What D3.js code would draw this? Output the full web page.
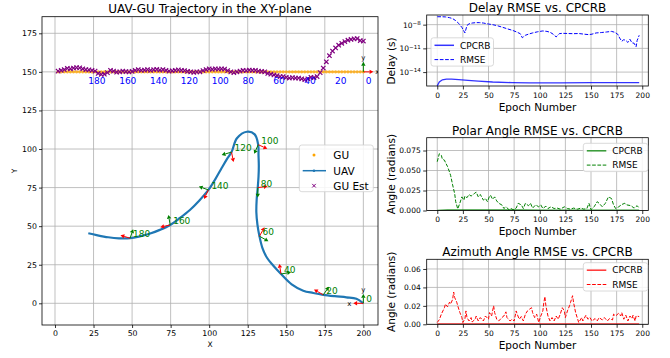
<!DOCTYPE html>
<html>
<head>
<meta charset="utf-8">
<script src="https://cdn.jsdelivr.net/npm/d3@7"></script>
<style>
  body { margin: 0; background: #fff; }
  svg { font-family: "DejaVu Sans", sans-serif; }
</style>
</head>
<body>
<svg id="fig" width="670" height="358"></svg>
<script>
// ---------- data ----------
// UAV trajectory (every 5 epochs)
const uavEpochs = [0,5,10,15,20,25,30,35,40,45,50,55,60,65,70,75,80,85,90,95,100,105,110,115,120,125,130,135,140,145,150,155,160,165,170,175,180,185,190,195,198];
const uavX = [200,195.5,189,181.5,174,167.5,161,153.5,146.6,141.5,137.5,134.5,132.6,131.3,130.6,130.8,131.5,132,132.2,132,131.8,129.5,124.5,118,114.5,111.5,108,104,99.5,93.5,87.5,81,74.7,68,61.7,55,48.7,41.5,34.5,27,21.6];
const uavY = [0,3.0,3.9,4.6,5.5,6.7,8.2,12.3,19,24.5,29.5,36,43.5,51,59,67,75,82,89,96,102.8,109.5,111.2,107,98,93.5,87.5,80.5,73.5,66.5,60.5,55.3,50.8,47.6,45.2,43.4,42.2,42.1,42.8,44.2,45.4];

// GU: true position moves along y = 150, estimate every 2 epochs
const guY = 150;
const estEpochs = d3.range(0, 199, 2);
const estY = [170,170.3,171.6,171.4,171,170.5,169.6,168.5,167.3,165.5,
  163.5,160.5,156.5,152.5,149.5,147,146.3,146.5,145.5,145,
  145.5,146,146,146.3,146,146.5,147,147,147.5,148,
  148.5,149,150,150.3,150.5,151,151,151.2,150.8,151,
  150.5,150,149.5,150,150.8,151.8,152,151.8,152,151.7,
  152,151.5,150.8,150,150,149.7,150,150.3,150.8,151,
  151.3,151,150.7,150.5,151,151.5,151.2,151.6,151.4,151,
  151.5,151.2,151,151.5,151,150.3,150,150.2,150.5,150,
  149.8,150.5,151,149.5,148.5,148.3,149,150.5,151,151.3,
  151.5,152,152.6,152.8,152.5,152,152.3,151.5,151,150.5];

// local frame arrows at labelled epochs (red = x-axis, green = y-axis), data units
const frameEpochs = [0,20,40,60,80,100,120,140,160,180];
const redDir   = [[-6.5,0],[-6,3.4],[-1.1,6.5],[3.3,5.8],[6.4,0.8],[5.9,-2.6],[1.3,-6.4],[-2.8,-5.9],[-6.4,-1.5],[-6.2,1.9]];
const greenDir = [[0,6],[3.7,5.2],[6.5,1.1],[5.8,-3.3],[0,-6.5],[-2.6,-5.9],[-6.4,-1.9],[-6.2,2.2],[-1.1,6.5],[2,5.8]];

// right-hand panels
const epochTicks = [0,25,50,75,100,125,150,175,200];

const delayCrbEpochs = [0,2,5,9,14,21,30,40,54,73,90,120,150,197];
const delayCrb = [1.8e-16,5.5e-16,1.05e-15,1.26e-15,1.26e-15,1.1e-15,8.9e-16,7.4e-16,5.6e-16,4.6e-16,4.2e-16,4.2e-16,4.6e-16,4.6e-16];
const delayRmseEpochs = [0,4,8,12,15,18,21,24,27,29,31,34,38,41,45,50,54,59,64,69,74,78,81,83,86,89,93,98,103,107,110,113,116,119,122,127,133,138,143,148,151,155,160,165,170,173,176,178,180,182,184,186,188,190,192,194,195,196,197];
const delayRmse = [1.0e-7,1.0e-7,9.5e-8,7.6e-8,5.8e-8,3.2e-8,1.4e-8,4.5e-9,8.9e-10,7.9e-9,1.26e-8,1.6e-8,1.8e-8,1.8e-8,1.6e-8,1.2e-8,1.0e-8,7.1e-9,4.5e-9,2.8e-9,1.8e-9,1.1e-9,7.1e-10,2.2e-10,4.5e-10,6.3e-10,8.9e-10,1.26e-9,1.6e-9,1.4e-9,1.1e-9,6.3e-10,2.8e-10,7.2e-10,8e-10,7.6e-10,7.2e-10,7.6e-10,6.3e-10,5.4e-10,6.3e-10,8.9e-10,1.0e-9,1.17e-9,1.4e-9,1.1e-9,6.3e-10,2.0e-10,7.9e-11,1.26e-10,1e-10,5.6e-11,1.4e-10,5e-11,4.5e-11,1.6e-11,1e-10,2e-10,4.5e-10];

const polarCrbEpochs = [0,5,10,20,30,45,60,80,100,130,160,197];
const polarCrb = [0.0002,0.0005,0.0007,0.0008,0.0008,0.0008,0.0007,0.0006,0.0005,0.0005,0.0004,0.0004];
const polarRmseEpochs = [0,2,4,5,7,8,10,12,13,15,17,18,20,22,24,26,27,29,31,33,36,38,40,42,45,47,49,51,52,54,56,58,60,63,65,67,70,72,74,77,79,82,84,86,89,91,93,96,99,101,103,106,108,111,114,117,120,124,127,130,133,137,140,143,146,148,150,153,156,158,161,164,167,170,172,174,177,180,183,185,189,192,195,197];
const polarRmse = [0.061,0.071,0.069,0.064,0.063,0.060,0.055,0.048,0.044,0.032,0.021,0.011,0.002,0.009,0.017,0.013,0.018,0.016,0.020,0.018,0.021,0.023,0.017,0.020,0.013,0.015,0.011,0.018,0.019,0.014,0.017,0.012,0.009,0.007,0.0025,0.0046,0.001,0.0025,0.001,0.003,0.009,0.007,0.0025,0.009,0.006,0.009,0.003,0.007,0.0046,0.007,0.0025,0.0054,0.0025,0.0046,0.0025,0.003,0.0017,0.0046,0.0025,0.0017,0.003,0.0017,0.003,0.0017,0.0025,0.009,0.001,0.0046,0.011,0.009,0.0046,0.009,0.017,0.015,0.007,0.0025,0.0046,0.0075,0.009,0.007,0.006,0.003,0.006,0.003];

const azCrbEpochs = [0,10,20,40,80,120,160,197];
const azCrb = [0.0003,0.0005,0.0005,0.0004,0.0004,0.0003,0.0003,0.0003];
const azRmseEpochs = [0,2,4,7,8,10,12,13,15,16,17,19,20,22,24,25,27,28,29,31,33,34,37,38,40,42,45,47,50,51,53,55,56,58,60,63,65,67,68,71,73,75,77,78,80,82,84,86,88,90,92,93,95,97,99,101,103,104,105,106,108,110,112,114,116,118,120,122,124,125,127,129,130,132,133,135,137,138,141,142,145,147,149,151,154,156,158,161,163,166,168,171,172,174,177,179,180,182,184,186,188,190,191,193,194,197];
const azRmse = [0.002,0.005,0.011,0.018,0.022,0.019,0.024,0.022,0.027,0.035,0.029,0.024,0.020,0.013,0.0073,0.002,0.006,0.0145,0.0073,0.0036,0.0073,0.0025,0.0055,0.009,0.0036,0.0073,0.0036,0.009,0.0055,0.0127,0.009,0.020,0.0127,0.0055,0.0036,0.0073,0.009,0.0135,0.0073,0.0036,0.0055,0.0036,0.0145,0.011,0.0055,0.0084,0.0036,0.011,0.0145,0.0164,0.018,0.0127,0.0073,0.011,0.002,0.009,0.0145,0.0236,0.030,0.020,0.009,0.0036,0.0073,0.0036,0.009,0.0055,0.011,0.018,0.0145,0.0073,0.0145,0.020,0.0236,0.031,0.0236,0.0127,0.0055,0.002,0.0073,0.0036,0.0098,0.0055,0.0073,0.0036,0.0062,0.0036,0.0073,0.0047,0.0073,0.0036,0.0062,0.0047,0.011,0.009,0.012,0.009,0.0127,0.0055,0.0098,0.0036,0.009,0.0062,0.0098,0.0036,0.009,0.0084];

// ---------- figure ----------
const svg = d3.select("#fig");
svg.append("rect").attr("width", 670).attr("height", 358).attr("fill", "#fff");

function styleAxis(g, size) {
  g.select(".domain").remove();
  g.selectAll(".tick line").attr("stroke", "#000").attr("stroke-width", 0.8);
  g.selectAll(".tick text").attr("fill", "#000").style("font-size", size + "px")
    .style("font-family", '"DejaVu Sans", sans-serif');
}

function arrow(g, p0, p1, color) {
  const dx = p1[0] - p0[0], dy = p1[1] - p0[1];
  const len = Math.hypot(dx, dy), ux = dx / len, uy = dy / len;
  const hl = 3.8, hw = 2.2;
  const bx = p1[0] - ux * hl, by = p1[1] - uy * hl;
  g.append("line").attr("x1", p0[0]).attr("y1", p0[1]).attr("x2", bx).attr("y2", by)
    .attr("stroke", color).attr("stroke-width", 1);
  g.append("path")
    .attr("d", `M${p1[0]},${p1[1]}L${bx - uy * hw},${by + ux * hw}L${bx + uy * hw},${by - ux * hw}Z`)
    .attr("fill", color);
}

// ===== left panel: trajectory =====
const L = { left: 42, right: 378, top: 16.7, bottom: 325 };
const xL = d3.scaleLinear().domain([-8.43, 209.5]).range([L.left, L.right]);
const yL = d3.scaleLinear().domain([-14.06, 185.76]).range([L.bottom, L.top]);
const trajTicksX = [0,25,50,75,100,125,150,175,200];
const trajTicksY = [0,25,50,75,100,125,150,175];

svg.append("clipPath").attr("id", "clipL").append("rect")
  .attr("x", L.left).attr("y", L.top).attr("width", L.right - L.left).attr("height", L.bottom - L.top);

const gl = svg.append("g");
gl.selectAll(".gx").data(trajTicksX).enter().append("line")
  .attr("x1", d => xL(d)).attr("x2", d => xL(d)).attr("y1", L.top).attr("y2", L.bottom)
  .attr("stroke", "#b0b0b0").attr("stroke-width", 0.8);
gl.selectAll(".gy").data(trajTicksY).enter().append("line")
  .attr("y1", d => yL(d)).attr("y2", d => yL(d)).attr("x1", L.left).attr("x2", L.right)
  .attr("stroke", "#b0b0b0").attr("stroke-width", 0.8);

const pl = gl.append("g").attr("clip-path", "url(#clipL)");

// GU true positions
pl.selectAll(".gu").data(estEpochs).enter().append("circle")
  .attr("cx", e => xL(200 - e)).attr("cy", yL(guY)).attr("r", 1.7)
  .attr("fill", "#ffa500").attr("opacity", 0.8);

// UAV
const uavPts = uavEpochs.map((e, i) => [uavX[i], uavY[i]]);
pl.append("path").datum(uavPts)
  .attr("d", d3.line().x(d => xL(d[0])).y(d => yL(d[1])).curve(d3.curveCatmullRom))
  .attr("fill", "none").attr("stroke", "#1f77b4").attr("stroke-width", 2.2);

// GU estimates
pl.selectAll(".est").data(estEpochs).enter().append("path")
  .attr("transform", (e, i) => `translate(${xL(200 - e)},${yL(estY[i])})`)
  .attr("d", "M-2.2,-2.2L2.2,2.2M-2.2,2.2L2.2,-2.2")
  .attr("stroke", "#800080").attr("stroke-width", 1.2);

// GU epoch labels
pl.selectAll(".gulab").data(frameEpochs).enter().append("text")
  .attr("x", e => xL(200 - e) + 2.5).attr("y", yL(guY) + 12.5)
  .attr("fill", "#0000ff").style("font-size", "9px").text(e => e);

// GU start frame
arrow(pl, [xL(200), yL(guY)], [xL(206.5), yL(guY)], "red");
arrow(pl, [xL(200), yL(guY)], [xL(200), yL(guY + 6.5)], "green");
pl.append("text").attr("x", xL(206.5) + 2).attr("y", yL(guY) + 2.5).style("font-size", "7px").text("x");
pl.append("text").attr("x", xL(200)).attr("y", yL(guY + 6.5) - 2).attr("text-anchor", "middle").style("font-size", "7px").text("y");

// UAV frames and epoch labels
frameEpochs.forEach((e, k) => {
  const i = uavEpochs.indexOf(e);
  const x0 = uavX[i], y0 = uavY[i];
  const p0 = [xL(x0), yL(y0)];
  arrow(pl, p0, [xL(x0 + redDir[k][0]), yL(y0 + redDir[k][1])], "red");
  arrow(pl, p0, [xL(x0 + greenDir[k][0]), yL(y0 + greenDir[k][1])], "green");
  pl.append("text").attr("x", p0[0] + 3).attr("y", p0[1] - 1)
    .attr("fill", "green").style("font-size", "9px").text(e);
});
pl.append("text").attr("x", xL(200 - 6.5) - 2).attr("y", yL(0) + 2.5).attr("text-anchor", "end").style("font-size", "7px").text("x");
pl.append("text").attr("x", xL(200)).attr("y", yL(6) - 2).attr("text-anchor", "middle").style("font-size", "7px").text("y");

gl.append("rect").attr("x", L.left).attr("y", L.top).attr("width", L.right - L.left).attr("height", L.bottom - L.top)
  .attr("fill", "none").attr("stroke", "#000").attr("stroke-width", 0.8);

const axLx = gl.append("g").attr("transform", `translate(0,${L.bottom})`)
  .call(d3.axisBottom(xL).tickValues(trajTicksX).tickSize(3).tickPadding(2.5));
styleAxis(axLx, 7.8);
const axLy = gl.append("g").attr("transform", `translate(${L.left},0)`)
  .call(d3.axisLeft(yL).tickValues(trajTicksY).tickSize(3).tickPadding(2));
styleAxis(axLy, 7.8);

gl.append("text").attr("x", (L.left + L.right) / 2).attr("y", 13).attr("text-anchor", "middle")
  .style("font-size", "12px").text("UAV-GU Trajectory in the XY-plane");
gl.append("text").attr("x", (L.left + L.right) / 2).attr("y", 346.5).attr("text-anchor", "middle")
  .style("font-size", "7.5px").text("X");
gl.append("text").attr("transform", `translate(16.5,${(L.top + L.bottom) / 2}) rotate(-90)`).attr("text-anchor", "middle")
  .style("font-size", "7.5px").text("Y");

// legend
const lg = gl.append("g").attr("transform", "translate(299.3,145)");
lg.append("rect").attr("width", 74).attr("height", 46.7).attr("rx", 2.5)
  .attr("fill", "#fff").attr("fill-opacity", 0.85).attr("stroke", "#d0d0d0").attr("stroke-width", 0.8);
lg.append("circle").attr("cx", 14.7).attr("cy", 10).attr("r", 1.5).attr("fill", "#ffa500");
lg.append("line").attr("x1", 3.4).attr("x2", 26.7).attr("y1", 25.7).attr("y2", 25.7).attr("stroke", "#1f77b4").attr("stroke-width", 1.5);
lg.append("circle").attr("cx", 14.7).attr("cy", 25.7).attr("r", 1.3).attr("fill", "#1f77b4");
lg.append("path").attr("transform", "translate(14.7,40.7)").attr("d", "M-1.8,-1.8L1.8,1.8M-1.8,1.8L1.8,-1.8")
  .attr("stroke", "#800080").attr("stroke-width", 1);
["GU", "UAV", "GU Est"].forEach((t, i) => {
  lg.append("text").attr("x", 34).attr("y", [10, 25.7, 40.7][i] + 3.8).style("font-size", "10.5px").text(t);
});

// ===== right panels =====
const R = { left: 426.7, right: 648.3 };
const xR = d3.scaleLinear().domain([-10.3, 205.9]).range([R.left, R.right]);

const panels = [
  { id: "delay", title: "Delay RMSE vs. CPCRB", top: 15, bottom: 86, color: "blue",
    y: d3.scaleLog().domain([Math.pow(10, -15.76), Math.pow(10, -6.78)]),
    yTicks: [1e-8, 1e-11, 1e-14], ylabel: "Delay (s)", ylabelY: 61,
    crbE: delayCrbEpochs, crb: delayCrb, rmseE: delayRmseEpochs, rmse: delayRmse,
    legend: [431, 37.8, 62.5] },
  { id: "polar", title: "Polar Angle RMSE vs. CPCRB", top: 137.7, bottom: 210.5, color: "green",
    y: d3.scaleLinear().domain([0, 0.091]), yTicks: [0, 0.025, 0.05, 0.075], fmt: d3.format(".3f"),
    ylabel: "Angle (radians)", crbE: polarCrbEpochs, crb: polarCrb, rmseE: polarRmseEpochs, rmse: polarRmse,
    legend: [583.3, 143.3, 64.4] },
  { id: "az", title: "Azimuth Angle RMSE vs. CPCRB", top: 259.3, bottom: 324.3, color: "red",
    y: d3.scaleLinear().domain([0, 0.0705]), yTicks: [0, 0.02, 0.04, 0.06], fmt: d3.format(".2f"),
    ylabel: "Angle (radians)", crbE: azCrbEpochs, crb: azCrb, rmseE: azRmseEpochs, rmse: azRmse,
    legend: [583.3, 262.7, 64.4] }
];

panels.forEach(p => {
  const y = p.y.range([p.bottom, p.top]);
  const g = svg.append("g");
  svg.append("clipPath").attr("id", "clip-" + p.id).append("rect")
    .attr("x", R.left).attr("y", p.top).attr("width", R.right - R.left).attr("height", p.bottom - p.top);

  g.selectAll(".gx").data(epochTicks).enter().append("line")
    .attr("x1", d => xR(d)).attr("x2", d => xR(d)).attr("y1", p.top).attr("y2", p.bottom)
    .attr("stroke", "#b0b0b0").attr("stroke-width", 0.8);
  g.selectAll(".gy").data(p.yTicks).enter().append("line")
    .attr("y1", d => y(d)).attr("y2", d => y(d)).attr("x1", R.left).attr("x2", R.right)
    .attr("stroke", "#b0b0b0").attr("stroke-width", 0.8);

  const pg = g.append("g").attr("clip-path", `url(#clip-${p.id})`);
  const line = d3.line().x(d => xR(d[0])).y(d => y(d[1]));
  pg.append("path").datum(p.crbE.map((e, i) => [e, p.crb[i]])).attr("d", line)
    .attr("fill", "none").attr("stroke", p.color).attr("stroke-width", 1.3).attr("stroke-opacity", 0.8);
  pg.append("path").datum(p.rmseE.map((e, i) => [e, p.rmse[i]])).attr("d", line)
    .attr("fill", "none").attr("stroke", p.color).attr("stroke-width", 1).attr("stroke-dasharray", "3.7,1.6");

  g.append("rect").attr("x", R.left).attr("y", p.top).attr("width", R.right - R.left).attr("height", p.bottom - p.top)
    .attr("fill", "none").attr("stroke", "#000").attr("stroke-width", 0.8);

  const ax = g.append("g").attr("transform", `translate(0,${p.bottom})`)
    .call(d3.axisBottom(xR).tickValues(epochTicks).tickSize(3.5).tickPadding(3));
  styleAxis(ax, 7.5);

  const ay = g.append("g").attr("transform", `translate(${R.left},0)`)
    .call(d3.axisLeft(y).tickValues(p.yTicks).tickSize(3.5).tickPadding(2.5)
      .tickFormat(p.fmt ? p.fmt : () => ""));
  styleAxis(ay, 7.5);
  if (!p.fmt) {
    ay.selectAll(".tick").each(function (d) {
      const t = d3.select(this).select("text");
      t.text("10");
      t.append("tspan").attr("dy", "-0.5em").style("font-size", "5.5px").text("\u2212" + Math.round(-Math.log10(d)));
    });
  }

  g.append("text").attr("x", (R.left + R.right) / 2).attr("y", p.top - 3).attr("text-anchor", "middle")
    .style("font-size", "12px").text(p.title);
  g.append("text").attr("x", (R.left + R.right) / 2).attr("y", p.bottom + 24.5).attr("text-anchor", "middle")
    .style("font-size", "10.5px").text("Epoch Number");
  const ly = p.ylabelY !== undefined ? p.ylabelY : (p.top + p.bottom) / 2;
  g.append("text").attr("transform", `translate(394.5,${ly}) rotate(-90)`).attr("text-anchor", "middle")
    .style("font-size", "10.5px").text(p.ylabel);

  const [lx, lyy, lw] = p.legend;
  const lgd = g.append("g").attr("transform", `translate(${lx},${lyy})`);
  lgd.append("rect").attr("width", lw).attr("height", 28.3).attr("rx", 2.5)
    .attr("fill", "#fff").attr("fill-opacity", 0.85).attr("stroke", "#d0d0d0").attr("stroke-width", 0.8);
  lgd.append("line").attr("x1", 3.5).attr("x2", 23).attr("y1", 7.5).attr("y2", 7.5)
    .attr("stroke", p.color).attr("stroke-width", 1.5).attr("stroke-opacity", 0.8);
  lgd.append("line").attr("x1", 3.5).attr("x2", 23).attr("y1", 21.8).attr("y2", 21.8)
    .attr("stroke", p.color).attr("stroke-width", 1).attr("stroke-dasharray", "3.7,1.6");
  lgd.append("text").attr("x", 29).attr("y", 7.5 + 3.3).style("font-size", "9px").text("CPCRB");
  lgd.append("text").attr("x", 29).attr("y", 21.8 + 3.3).style("font-size", "9px").text("RMSE");
});
</script>
</body>
</html>
